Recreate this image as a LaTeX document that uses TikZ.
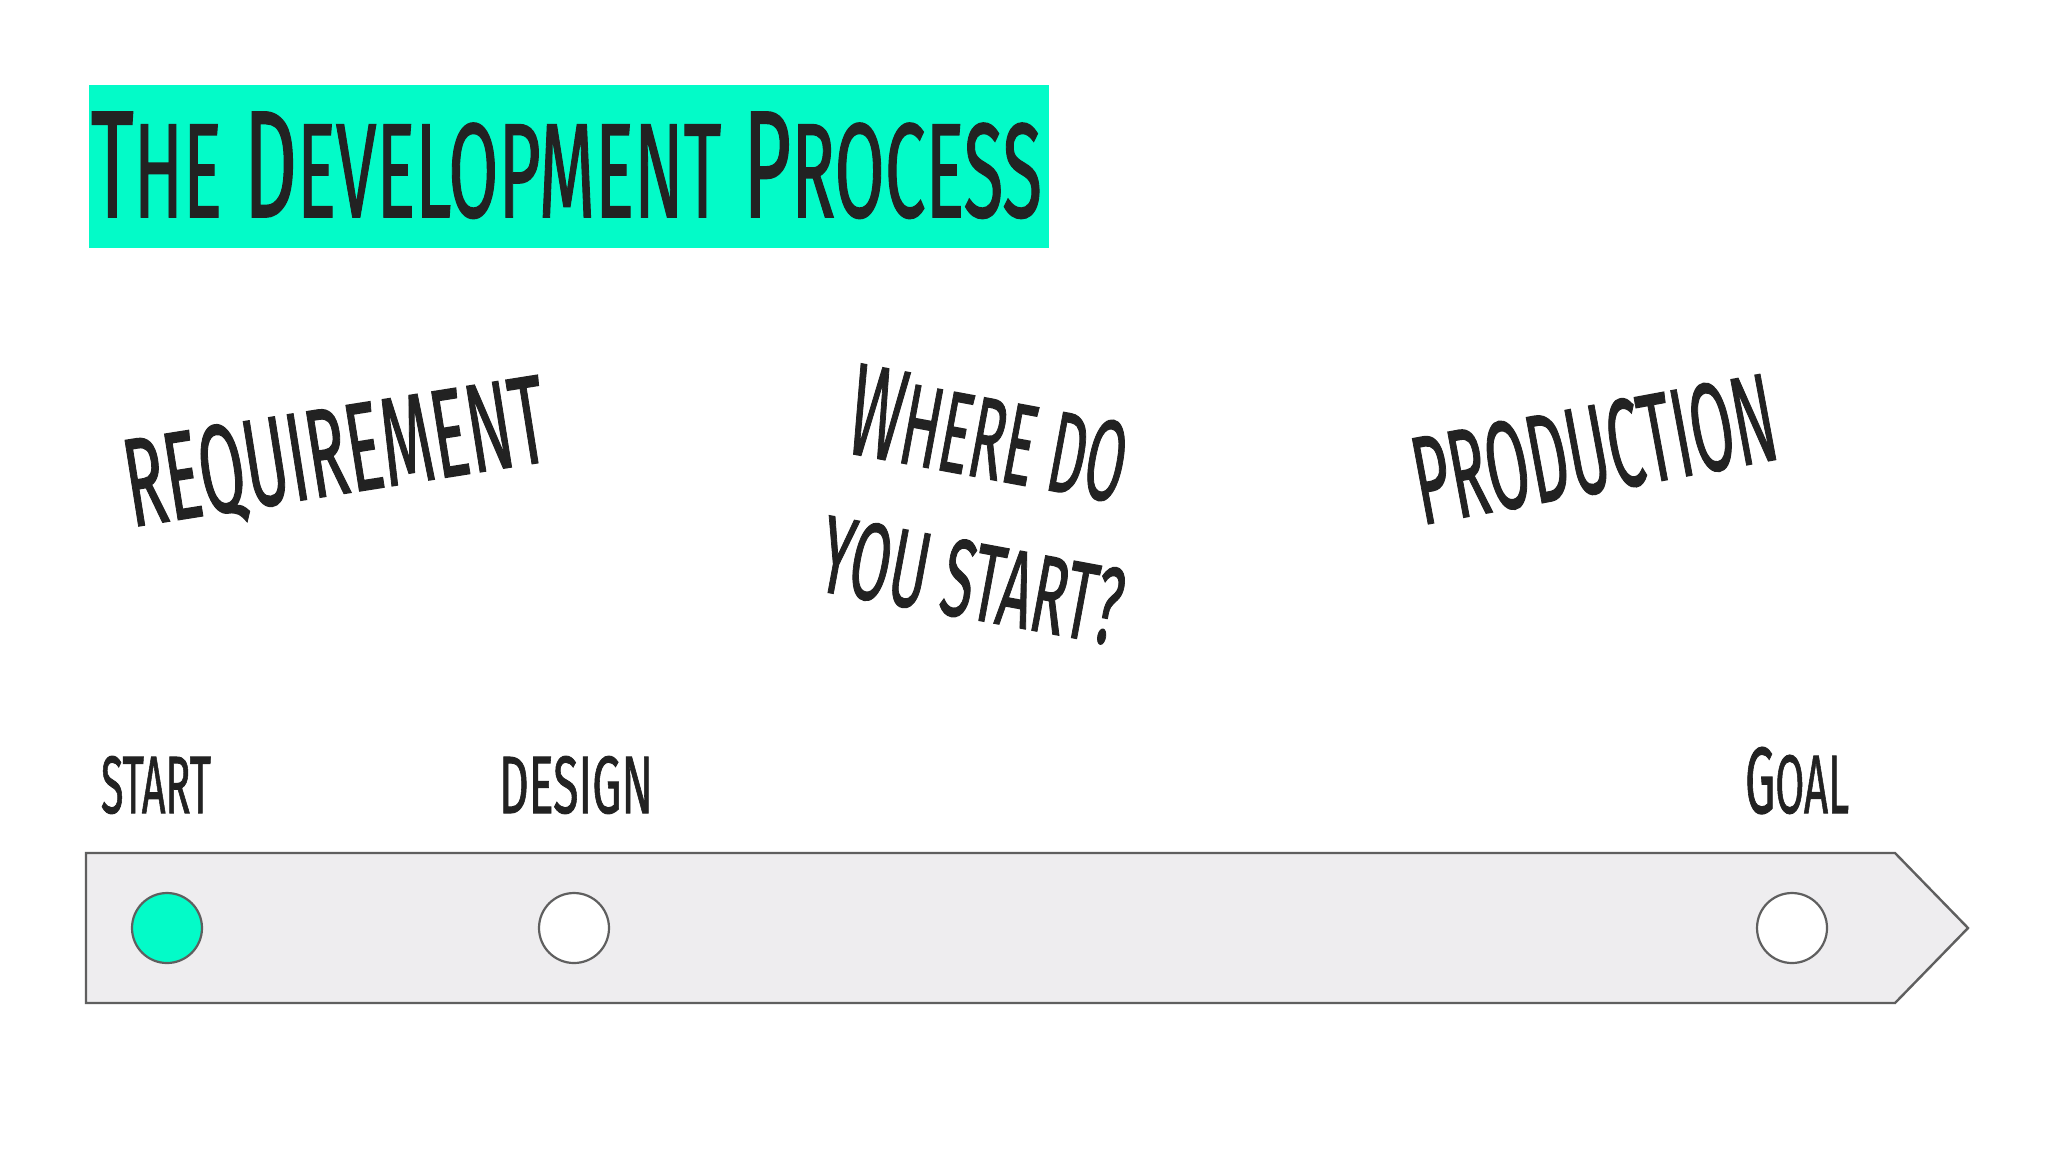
\documentclass[tikz,border=0pt]{standalone}
\usepackage{fontspec}
\setmainfont{Fira Sans}
\newfontfamily\handfont[FakeBold=1.2]{Fira Sans}
\usepackage{graphicx}
\definecolor{accent}{HTML}{03FBC8}
\definecolor{barfill}{HTML}{EEEDEF}
\definecolor{edge}{HTML}{5F5F5F}
\definecolor{ink}{HTML}{222222}
\newcommand\sm[1]{\scalebox{0.88}{#1}}
\newcommand\fitbox[3]{\resizebox{#1}{#2}{\handfont #3}}
\begin{document}
\begin{tikzpicture}[x=0.5pt,y=-0.5pt,
  lbl/.style={inner sep=0pt, outer sep=0pt, anchor=base west, text=ink},
  dot/.style={circle, draw=edge, line width=1.1pt, minimum size=35pt, inner sep=0pt},
  barstyle/.style={draw=edge, fill=barfill, line width=1.2pt, line join=miter}]
\useasboundingbox[fill=white] (0,0) rectangle (2048,1152);
% title
\node[fill=accent, inner sep=0pt, minimum width=480pt, minimum height=81.5pt, anchor=north west] (titlebox) at (89,85) {};
\node[lbl] (title) at (91,217) {\fitbox{475.5pt}{52.5pt}{T\sm{HE} D\sm{EVELOPMENT} P\sm{ROCESS}}};
% rotated words
\node[lbl, rotate=9] (req) at (132,527) {\fitbox{212.5pt}{44pt}{REQUIREMENT}};
\node[lbl, rotate=10.5] (prod) at (1422,525) {\fitbox{183pt}{44pt}{PRODUCTION}};
\node[lbl, rotate=-10.5] (where) at (843,452) {\fitbox{140pt}{45pt}{W\sm{HERE DO}}};
\node[lbl, rotate=-10.5] (you) at (815,590) {\fitbox{152.5pt}{38.5pt}{YOU START?}};
% timeline labels
\node[lbl] (lstart) at (101,813) {\fitbox{55pt}{28.5pt}{START}};
\node[lbl] (ldesign) at (499,813) {\fitbox{77pt}{28.5pt}{DESIGN}};
\node[lbl] (lgoal) at (1745,813) {\fitbox{52pt}{33pt}{G\sm{OAL}}};
% bar
\draw[barstyle] (86,853) -- (1895,853) -- (1968,928) -- (1895,1003) -- (86,1003) -- cycle;
\node[dot, fill=accent] (c1) at (167,928) {};
\node[dot, fill=white] (c2) at (574,928) {};
\node[dot, fill=white] (c3) at (1792,928) {};
\end{tikzpicture}
\end{document}
